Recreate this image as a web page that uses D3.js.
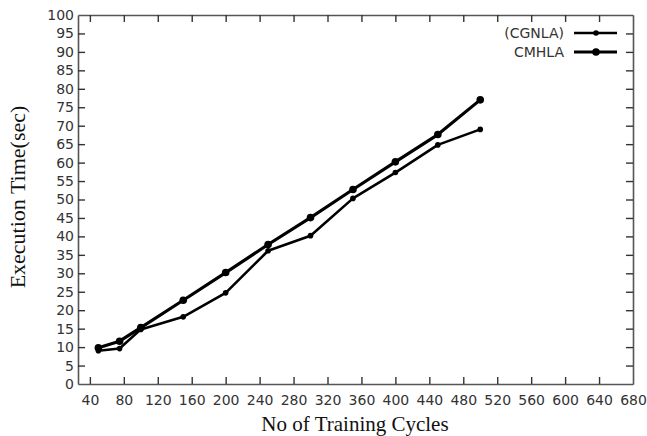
<!DOCTYPE html>
<html>
<head>
<meta charset="utf-8">
<script src="https://cdn.jsdelivr.net/npm/d3@7"></script>
<style>
  body { margin: 0; background: #fff; }
  .tick text { font-family: "DejaVu Sans", sans-serif; font-size: 14px; fill: #333; }
  .title { font-family: "Liberation Serif", "Times New Roman", serif; fill: #111; }
  .legend text { font-family: "DejaVu Sans", sans-serif; font-size: 14px; fill: #333; }
</style>
</head>
<body>
<div id="chart"></div>
<script>
// training cycles and execution times (sec)
var cycles = [50, 75, 100, 150, 200, 250, 300, 350, 400, 450, 500];
var cgnla = [9.0, 9.6, 14.8, 18.2, 24.7, 36.1, 40.2, 50.3, 57.3, 64.8, 69.0];
var cmhla = [9.8, 11.6, 15.3, 22.7, 30.2, 37.8, 45.1, 52.7, 60.2, 67.6, 77.0];
var xTicks = d3.range(40, 681, 40);
var yTicks = d3.range(0, 101, 5);
var seriesNames = ["(CGNLA)", "CMHLA"];

var width = 647, height = 436;
var margin = {left: 78, top: 15, right: 14, bottom: 52};

var svg = d3.select("#chart").append("svg")
    .attr("width", width)
    .attr("height", height);

// scales, the x range starts a little before 40 like the original
var x = d3.scaleLinear().domain([26, 680]).range([margin.left, width - margin.right]);
var y = d3.scaleLinear().domain([0, 100]).range([height - margin.bottom, margin.top]);

// axes with inward ticks on all four sides
svg.append("g")
    .attr("transform", "translate(0," + y(0) + ")")
    .call(d3.axisBottom(x).tickValues(xTicks).tickSize(-7).tickPadding(11).tickSizeOuter(0));
svg.append("g")
    .attr("transform", "translate(0," + y(100) + ")")
    .call(d3.axisTop(x).tickValues(xTicks).tickSize(-7).tickFormat("").tickSizeOuter(0));
svg.append("g")
    .attr("transform", "translate(" + x.range()[0] + ",0)")
    .call(d3.axisLeft(y).tickValues(yTicks).tickSize(-7).tickPadding(4).tickSizeOuter(0));
svg.append("g")
    .attr("transform", "translate(" + x.range()[1] + ",0)")
    .call(d3.axisRight(y).tickValues(yTicks).tickSize(-7).tickFormat("").tickSizeOuter(0));

svg.selectAll(".domain").attr("stroke", "#555").attr("stroke-width", 1.6);
svg.selectAll(".tick line").attr("stroke", "#333").attr("stroke-width", 1.4);

// no tick drawn on the border for the end values
svg.selectAll(".tick").filter(function(d) { return d === 680 || d === 100 || d === 0; })
    .select("line").attr("stroke", "none");

// lines
var line = d3.line()
    .x(function(d, i) { return x(cycles[i]); })
    .y(function(d) { return y(d); });

var series = [
    {name: seriesNames[0], values: cgnla, width: 2.6, r: 2.8},
    {name: seriesNames[1], values: cmhla, width: 3.2, r: 3.8}
];

series.forEach(function(s) {
    svg.append("path")
        .datum(s.values)
        .attr("fill", "none")
        .attr("stroke", "#000")
        .attr("stroke-width", s.width)
        .attr("stroke-linejoin", "round")
        .attr("d", line);

    svg.selectAll(null)
        .data(s.values)
        .enter().append("circle")
        .attr("cx", function(d, i) { return x(cycles[i]); })
        .attr("cy", function(d) { return y(d); })
        .attr("r", s.r)
        .attr("fill", "#000");
});

// legend
var legend = svg.append("g").attr("class", "legend");
series.forEach(function(s, i) {
    var ly = 33 + i * 19;
    legend.append("text")
        .attr("x", 564)
        .attr("y", ly)
        .attr("dy", "0.35em")
        .attr("text-anchor", "end")
        .text(s.name);
    legend.append("line")
        .attr("x1", 574).attr("x2", 617)
        .attr("y1", ly).attr("y2", ly)
        .attr("stroke", "#000")
        .attr("stroke-width", s.width);
    legend.append("circle")
        .attr("cx", 596).attr("cy", ly)
        .attr("r", s.r)
        .attr("fill", "#000");
});

// axis titles
svg.append("text")
    .attr("class", "title")
    .attr("x", 355)
    .attr("y", 431)
    .attr("text-anchor", "middle")
    .style("font-size", "21px")
    .text("No of Training Cycles");

svg.append("text")
    .attr("class", "title")
    .attr("transform", "translate(25,197) rotate(-90)")
    .attr("text-anchor", "middle")
    .style("font-size", "22px")
    .text("Execution Time(sec)");
</script>
</body>
</html>
